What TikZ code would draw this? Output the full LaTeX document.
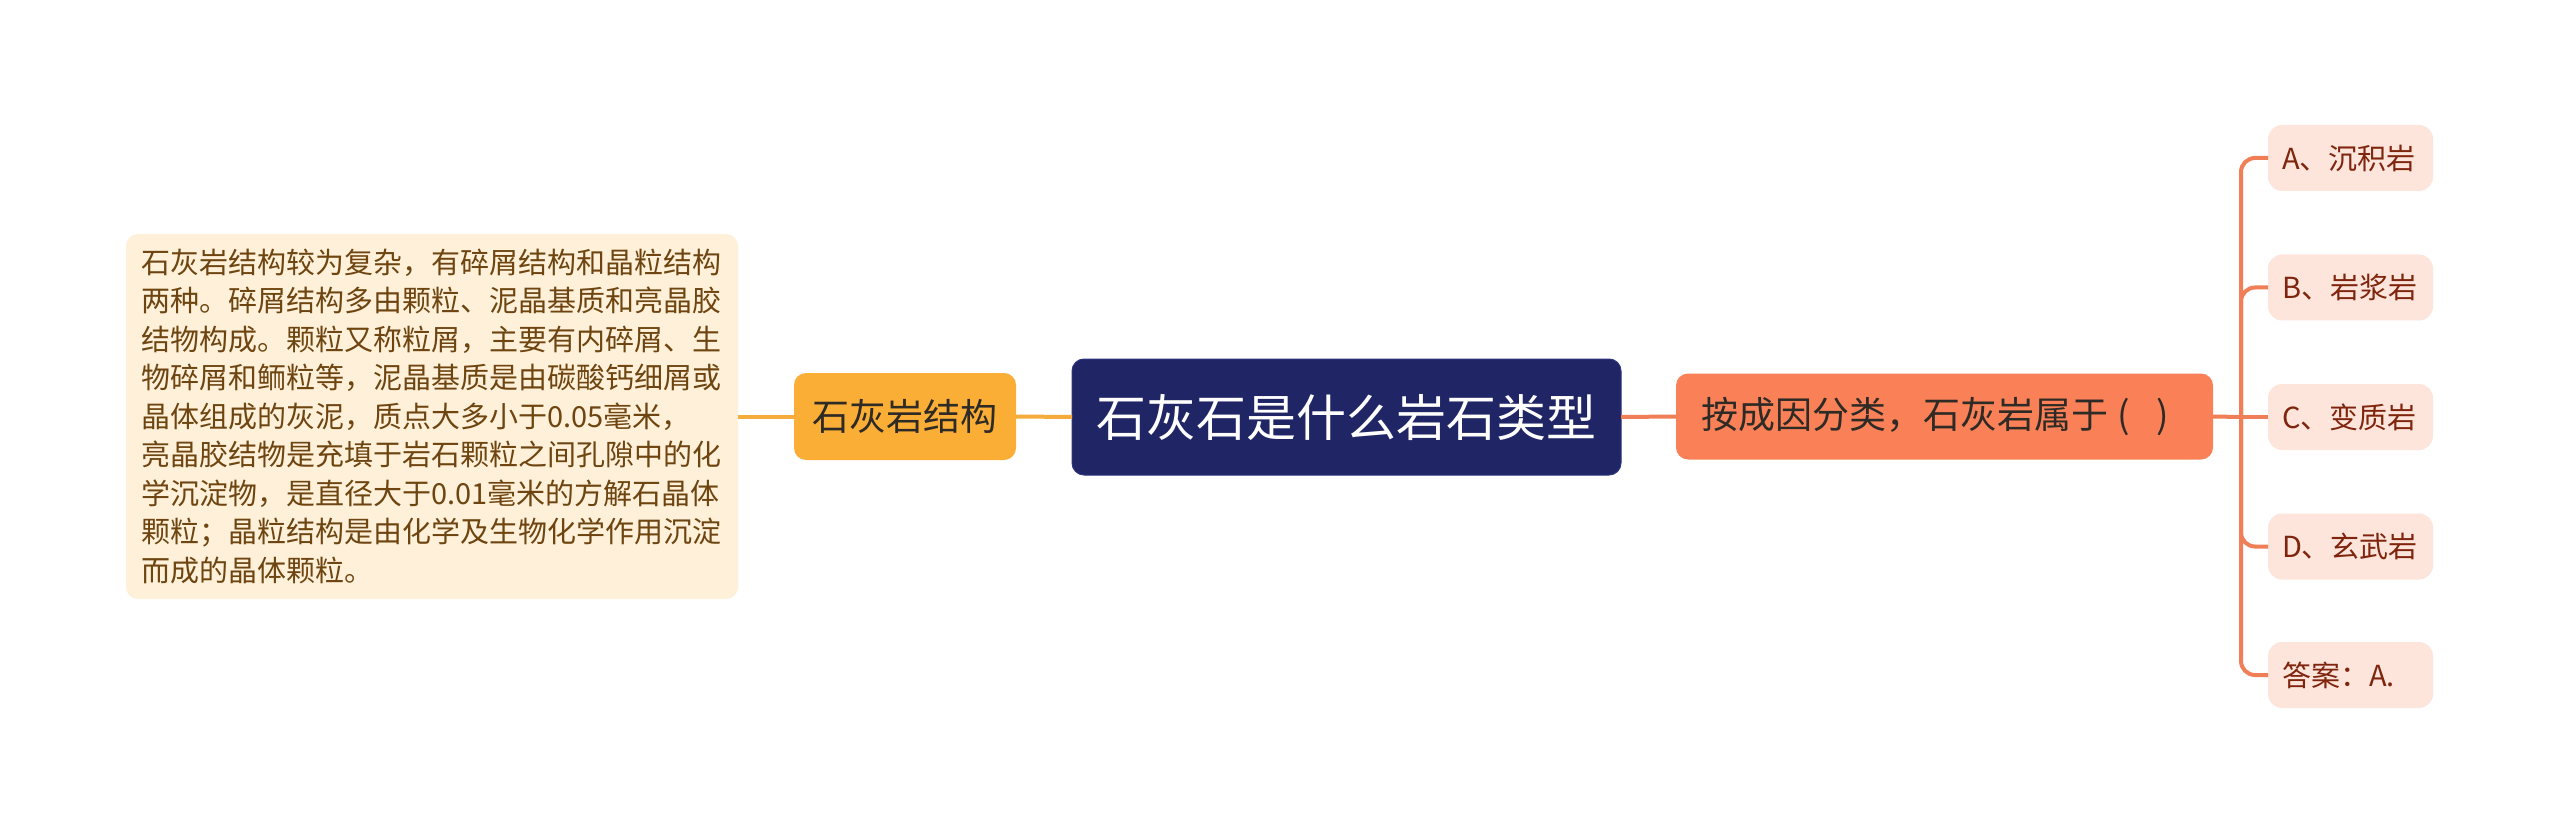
\documentclass[tikz,border=0pt]{standalone}
\usepackage{fontspec}
\setmainfont{Noto Sans CJK SC}
\begin{document}
\begin{tikzpicture}[x=1pt,y=-1pt,
  base/.style={inner sep=0pt, outer sep=0pt, rounded corners=12pt},
  leftbox/.style={base, fill=leftfill, text=lefttext, minimum width=612pt, minimum height=365pt,
     text width=582pt, align=left, font=\fontsize{29}{38.5}\selectfont},
  yellownode/.style={base, fill=yellowfill, text=darktext, minimum width=222pt, minimum height=87pt,
     font=\fontsize{37}{44}\selectfont},
  centernode/.style={base, fill=navy, draw=navyedge, line width=1pt, text=white, minimum width=549pt, minimum height=116pt,
     font=\fontsize{50}{58}\selectfont},
  orangenode/.style={base, fill=orangefill, text=darktext, minimum width=537pt, minimum height=86pt,
     font=\fontsize{37}{44}\selectfont},
  leafnode/.style={base, rounded corners=14pt, fill=leaffill, text=leaftext, minimum width=165pt, minimum height=66pt,
     text width=137pt, align=left, font=\fontsize{29}{34}\selectfont},
  ylink/.style={draw=yellowline, line width=4pt},
  olink/.style={draw=orangeline, line width=4pt, rounded corners=14pt}
]
\definecolor{leftfill}{HTML}{FEF0D9}
\definecolor{lefttext}{HTML}{6E4510}
\definecolor{yellowfill}{HTML}{FBAE36}
\definecolor{darktext}{HTML}{2E2A25}
\definecolor{navy}{HTML}{1F2565}
\definecolor{navyedge}{HTML}{2E3580}
\definecolor{orangefill}{HTML}{FA8157}
\definecolor{leaffill}{HTML}{FDE5DC}
\definecolor{leaftext}{HTML}{80250D}
\definecolor{yellowline}{HTML}{F5AC3C}
\definecolor{orangeline}{HTML}{F07E56}

\useasboundingbox[fill=white] (0,0) rectangle (2560,834);

\node[leftbox] (desc) at (432,416.5) {石灰岩结构较为复杂，有碎屑结构和晶粒结构\\两种。碎屑结构多由颗粒、泥晶基质和亮晶胶\\结物构成。颗粒又称粒屑，主要有内碎屑、生\\物碎屑和鲕粒等，泥晶基质是由碳酸钙细屑或\\晶体组成的灰泥，质点大多小于0.05毫米，\\亮晶胶结物是充填于岩石颗粒之间孔隙中的化\\学沉淀物，是直径大于0.01毫米的方解石晶体\\颗粒；晶粒结构是由化学及生物化学作用沉淀\\而成的晶体颗粒。};
\node[yellownode] (struct) at (905,416.5) {石灰岩结构};
\node[centernode] (root) at (1346.5,417) {石灰石是什么岩石类型};
\node[orangenode] (q) at (1944.5,416.5) {按成因分类，石灰岩属于\kern9pt(\kern27pt)\kern18pt};

\node[leafnode] (a) at (2350.5,158) {A、沉积岩};
\node[leafnode] (b) at (2350.5,287.5) {B、岩浆岩};
\node[leafnode] (c) at (2350.5,417) {C、变质岩};
\node[leafnode] (d) at (2350.5,546.5) {D、玄武岩};
\node[leafnode] (ans) at (2350.5,675) {答案：A.};

\coordinate (trunk) at (2241,417);

\draw[ylink] (root.west) -- (struct.east);
\draw[ylink] (struct.west) -- (desc.east);
\draw[olink] (root.east) -- (q.west);
\draw[olink] (q.east) -- (trunk);
\draw[olink] (trunk) |- (a.west);
\draw[olink] (trunk) |- (b.west);
\draw[olink] (trunk) -- (c.west);
\draw[olink] (trunk) |- (d.west);
\draw[olink] (trunk) |- (ans.west);
\end{tikzpicture}
\end{document}
